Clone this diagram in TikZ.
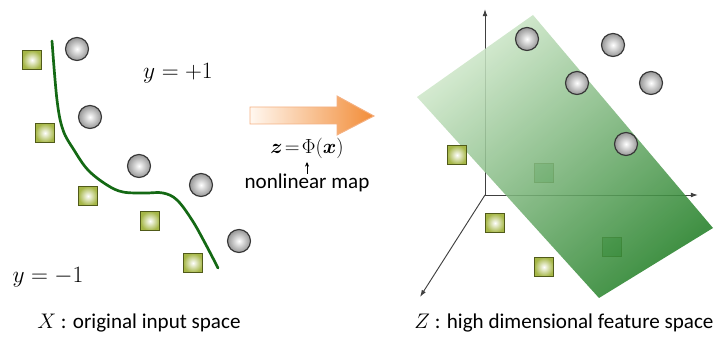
\RequirePackage{fix-cm}
\documentclass[tikz,border=0pt]{standalone}
\usepackage{amsmath}
\usepackage{fontspec}
\setmainfont{Carlito}
\usetikzlibrary{arrows.meta, positioning}
\definecolor{sqline}{RGB}{80,90,25}
\definecolor{sqfill}{RGB}{165,182,70}
\definecolor{ballline}{RGB}{55,55,55}
\definecolor{ballfill}{RGB}{150,150,150}
\definecolor{curvegreen}{RGB}{20,105,20}
\definecolor{planelight}{RGB}{208,232,203}
\definecolor{planedark}{RGB}{36,128,40}
\definecolor{maparrowline}{RGB}{244,177,131}
\definecolor{maparrowfill}{RGB}{242,140,55}

\begin{document}
\begin{tikzpicture}[
  x=0.03cm, y=-0.03cm,
  ball/.style={circle, draw=ballline, line width=1pt, minimum size=0.69cm,
               inner sep=0pt, inner color=white, outer color=ballfill},
  box/.style={rectangle, draw=sqline, line width=1.1pt, minimum size=0.58cm,
              inner sep=0pt, inner color=white, outer color=sqfill},
  hidden/.style={rectangle, draw=sqline, line width=0.6pt, minimum size=0.58cm,
                 inner sep=0pt, fill=planedark!60},
  axis/.style={-{Latex[length=6pt, width=4pt]}, black!75, line width=0.8pt},
  label/.style={font=\fontsize{18}{20}\selectfont, inner sep=1pt},
  mathlabel/.style={font=\fontsize{20}{22}\selectfont, inner sep=1pt}
]
\useasboundingbox (0,0) rectangle (720,347);

% input space
\draw[curvegreen, line width=2.3pt, line cap=round] plot[smooth, tension=0.6] coordinates
  {(52,41) (57,100) (63,130) (74,150) (88,170) (107,185) (123,192) (145,193)
   (163,193) (177,200) (192,220) (205,243) (218,268)};

\node[box] (n1) at (32,60)  {};
\node[box] (n2) at (45,133) {};
\node[box] (n3) at (88,196) {};
\node[box] (n4) at (150,221) {};
\node[box] (n5) at (193,263) {};

\node[ball] (p1) at (77,49)   {};
\node[ball] (p2) at (90,117)  {};
\node[ball] (p3) at (139,166) {};
\node[ball] (p4) at (201,185) {};
\node[ball] (p5) at (239,241) {};

\node[mathlabel] (plus)  at (178,73)  {$y=+1$};
\node[mathlabel] (minus) at (48,277)  {$y=-1$};
\node[label] (xcap) at (139,323) {$X$ : original input space};

% the map
\draw[maparrowline, line width=0.8pt, left color=orange!6, middle color=orange!18,
      right color=maparrowfill]
  (250,107) -- (337,107) -- (337,96) -- (374,116) -- (337,135) -- (337,124)
  -- (250,124) -- cycle;
\node[font=\fontsize{17.5}{22}\selectfont, inner sep=0pt] (phi) at (307,148)
  {$\boldsymbol{z}\!=\!\Phi(\boldsymbol{x})$};
\node[label, inner sep=0pt, below=0.62cm of phi.base] (nlm) {nonlinear map};
\draw[-{Stealth[length=4pt, width=3.5pt]}, black, line width=0.6pt]
  (nlm.north) -- ([yshift=-3pt]phi.south);

% feature space
\coordinate (o) at (485,195);
\coordinate (zup) at (485,9);
\coordinate (zright) at (698,195);
\coordinate (zdiag) at (420,297);
\draw[axis] (o) -- (zup);
\draw[axis] (o) -- (zright);
\draw[axis] (o) -- (zdiag);

\node[hidden] (h1) at (544,173) {};
\node[hidden] (h2) at (612,247) {};

\coordinate (ptop) at (533,15);
\coordinate (pright) at (713,228);
\coordinate (pbot) at (599,298);
\coordinate (pleft) at (417,97);
\shade[fill opacity=0.87, left color=planedark, right color=planelight, shading angle=220]
  (ptop) -- (pright) -- (pbot) -- (pleft) -- cycle;

\node[box] (m1) at (457,155) {};
\node[box] (m2) at (495,223) {};
\node[box] (m3) at (544,267) {};

\node[ball] (q1) at (527,39)  {};
\node[ball] (q2) at (613,45)  {};
\node[ball] (q3) at (577,83)  {};
\node[ball] (q4) at (651,83)  {};
\node[ball] (q5) at (626,144) {};

\node[label] (zcap) at (564,323) {$Z$ : high dimensional feature space};
\end{tikzpicture}
\end{document}
